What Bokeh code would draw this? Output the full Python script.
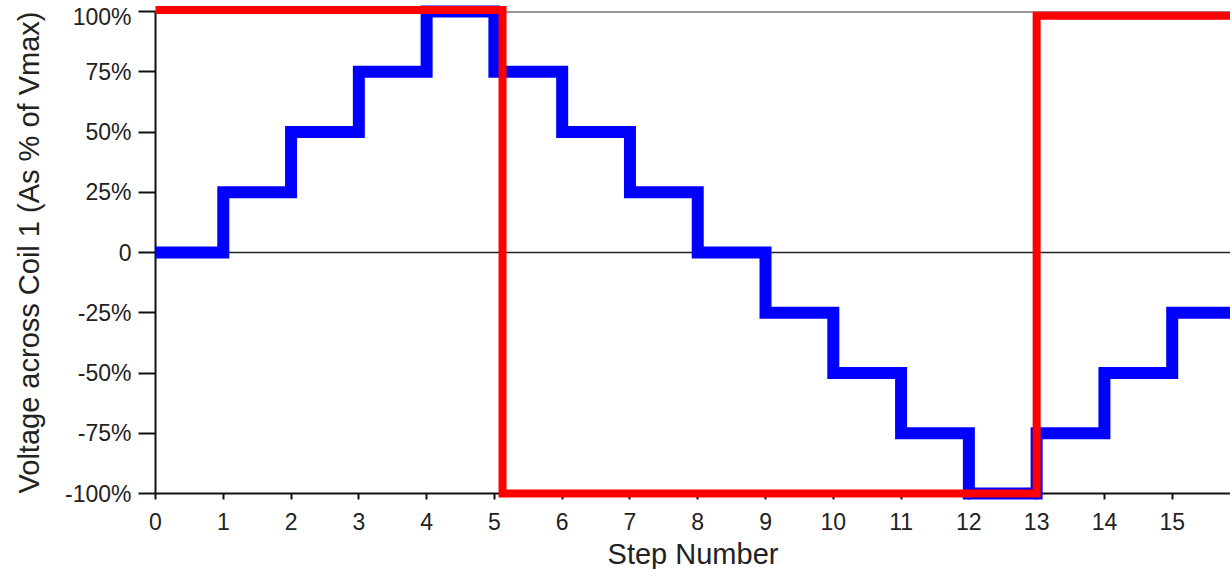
from bokeh.plotting import figure
from bokeh.models import Range1d, Span, FixedTicker
from bokeh.core.properties import value
from bokeh.embed import file_html
from bokeh.resources import INLINE

# ---- data ----
steps = list(range(17))
coil1_pct = [0, 25, 50, 75, 100, 75, 50, 25, 0, -25, -50, -75, -100, -75, -50, -25, -25]
phase_x = [0, 5.12, 5.12, 13.0, 13.0, 15.86]
phase_y = [100.6, 100.6, -100, -100, 98.2, 98.2]
y_ticks = [-100, -75, -50, -25, 0, 25, 50, 75, 100]
y_tick_labels = ["-100%", "-75%", "-50%", "-25%", "0", "25%", "50%", "75%", "100%"]
x_ticks = list(range(16))
x_label = "Step Number"
y_label = "Voltage across Coil 1 (As % of Vmax)"

FONT = "Liberation Sans"
TICK_FS = "23px"
LABEL_FS = "29px"

p = figure(
    frame_width=1075, frame_height=482,
    x_range=Range1d(0, 15.86), y_range=Range1d(-100, 100),
    output_backend="svg", toolbar_location=None,
    min_border_left=155, min_border_top=11, min_border_right=0, min_border_bottom=76,
)
p.xgrid.visible = False
p.ygrid.visible = False
p.outline_line_color = None
p.background_fill_color = "white"
p.border_fill_color = "white"

# reference lines
p.add_layout(Span(location=0, dimension="width", line_color="#222222", line_width=1.5, level="underlay"))
p.add_layout(Span(location=y_ticks[-1], dimension="width", line_color="#333333", line_width=2, level="underlay"))

# axes
xa = p.xaxis[0]
xa.ticker = FixedTicker(ticks=x_ticks)
xa.minor_tick_line_color = None
xa.major_tick_out = 6
xa.major_tick_in = 0
xa.axis_line_width = 2
xa.major_tick_line_width = 2
xa.axis_line_color = "#111111"
xa.major_tick_line_color = "#111111"
xa.major_label_text_font = FONT
xa.major_label_text_font_size = TICK_FS
xa.major_label_text_color = "#222222"
xa.major_label_standoff = 13
xa.axis_label = x_label
xa.axis_label_text_font = FONT
xa.axis_label_text_font_size = LABEL_FS
xa.axis_label_text_font_style = "normal"
xa.axis_label_text_color = "#222222"
xa.axis_label_standoff = 5

ya = p.yaxis[0]
ya.ticker = FixedTicker(ticks=y_ticks)
overrides = {t: lab for t, lab in zip(y_ticks, y_tick_labels)}
overrides[y_ticks[-1]] = ""
ya.major_label_overrides = overrides
ya.minor_tick_line_color = None
ya.major_tick_out = 17
ya.major_tick_in = 0
ya.axis_line_width = 2
ya.major_tick_line_width = 2
ya.axis_line_color = "#111111"
ya.major_tick_line_color = "#111111"
ya.major_label_text_font = FONT
ya.major_label_text_font_size = TICK_FS
ya.major_label_text_color = "#222222"
ya.major_label_standoff = 7
ya.axis_label = y_label
ya.axis_label_text_font = FONT
ya.axis_label_text_font_size = LABEL_FS
ya.axis_label_text_font_style = "normal"
ya.axis_label_text_color = "#222222"
ya.axis_label_standoff = 17

# top tick label drawn as text so it is not cut by the canvas edge
p.text(x=[x_ticks[0]], y=[y_ticks[-1]], text=[y_tick_labels[-1]], x_offset=-24, y_offset=5,
       text_align="right", text_baseline="middle",
       text_font=value(FONT), text_font_size=TICK_FS, text_color="#222222", level="overlay")

# data
p.step(steps, coil1_pct, mode="after", line_color="#0000ff", line_width=12,
       line_join="miter", level="overlay")
p.line(phase_x, phase_y, line_color="#ff0000", line_width=8, line_join="miter", level="overlay")

open("out.html", "w").write(file_html(p, INLINE))
